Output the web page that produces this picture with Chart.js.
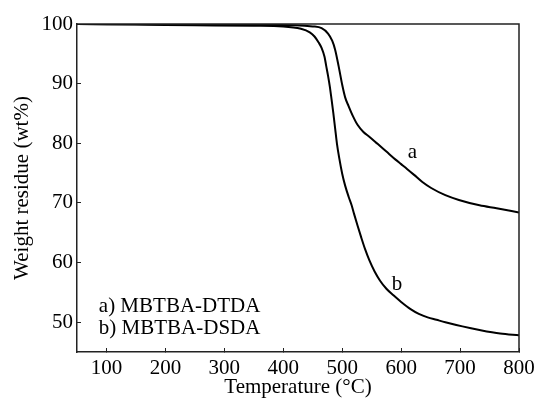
<!DOCTYPE html>
<html>
<head>
<meta charset="utf-8">
<script src="https://cdn.jsdelivr.net/npm/chart.js@4/dist/chart.umd.min.js"></script>
<style>
  html, body { margin: 0; padding: 0; background: #fff; }
  #wrap { width: 538px; height: 400px; position: relative; }
</style>
</head>
<body>
<div id="wrap"><canvas id="c" width="538" height="400"></canvas></div>
<script>
// Temperature (°C) sample points and weight residue (wt%)
const tempA = [50,150,250,350,420,450,465,476,483,488,494,500,505,511,518,526,536,546,560,575,590,600,610,622,636,651,675,698,733,762,800];
const residueA = [100,99.95,99.9,99.85,99.8,99.6,99.3,98.4,97.2,95.7,92.9,89.8,87.7,86.2,84.6,83.1,81.9,81.1,79.9,78.6,77.3,76.5,75.7,74.7,73.5,72.5,71.3,70.5,69.6,69.1,68.4];
const tempB = [50,150,250,350,400,430,445,453,460,465,470,473,476,479,482,485,488,491,495,500,505,511,516,520,526,532,539,546,555,564,575,587,600,616,630,645,660,675,704,733,768,800];
const residueB = [100,99.9,99.8,99.7,99.6,99.2,98.6,97.9,96.9,96.0,94.5,92.9,91.3,89.5,87.3,85.0,82.5,80.0,77.5,74.9,72.9,71.0,69.6,68.2,66.2,64.3,62.2,60.4,58.5,57.0,55.6,54.5,53.4,52.2,51.4,50.8,50.4,50.0,49.3,48.7,48.1,47.8];
const xTicks = [100,200,300,400,500,600,700,800];
const yTicks = [50,60,70,80,90,100];
const legendLines = ["a) MBTBA-DTDA", "b) MBTBA-DSDA"];
const curveLabels = ["a", "b"];

const FONT = "'Liberation Serif', 'Times New Roman', serif";

const toPts = (xs, ys) => xs.map((x, i) => ({ x: x, y: ys[i] }));

const annotPlugin = {
  id: 'annot',
  afterDraw(chart) {
    const { ctx, chartArea: a, scales: { x, y } } = chart;
    ctx.save();
    // frame
    ctx.strokeStyle = '#222';
    ctx.lineWidth = 1.5;
    ctx.beginPath();
    ctx.moveTo(a.left, a.top);
    ctx.lineTo(a.right, a.top);
    ctx.lineTo(a.right, a.bottom);
    ctx.stroke();
    // text
    ctx.fillStyle = '#000';
    ctx.font = '21px ' + FONT;
    ctx.textBaseline = 'middle';
    ctx.textAlign = 'left';
    ctx.fillText(legendLines[0], x.getPixelForValue(87), y.getPixelForValue(52.7));
    ctx.fillText(legendLines[1], x.getPixelForValue(87), y.getPixelForValue(48.9));
    ctx.textAlign = 'center';
    ctx.fillText(curveLabels[0], x.getPixelForValue(619), y.getPixelForValue(78.5));
    ctx.fillText(curveLabels[1], x.getPixelForValue(593), y.getPixelForValue(56.4));
    ctx.restore();
  }
};

new Chart(document.getElementById('c'), {
  type: 'line',
  data: {
    datasets: [
      { label: 'a', data: toPts(tempA, residueA), borderColor: '#000', borderWidth: 2, pointRadius: 0, cubicInterpolationMode: 'monotone', fill: false },
      { label: 'b', data: toPts(tempB, residueB), borderColor: '#000', borderWidth: 2, pointRadius: 0, cubicInterpolationMode: 'monotone', fill: false }
    ]
  },
  options: {
    responsive: false,
    animation: false,
    devicePixelRatio: 1,
    layout: { padding: { top: 24, right: 19, left: 0, bottom: 0 } },
    plugins: { legend: { display: false }, tooltip: { enabled: false } },
    scales: {
      x: {
        type: 'linear', min: 50, max: 800,
        afterBuildTicks(s) { s.ticks = xTicks.map(v => ({ value: v })); },
        afterFit(s) { s.height = 48; s.paddingLeft = 0; s.paddingRight = 0; },
        grid: { drawOnChartArea: false, drawTicks: true, tickLength: -4, color: '#222' },
        border: { color: '#222', width: 1.5 },
        ticks: { color: '#000', font: { family: FONT, size: 21 }, padding: 8, maxRotation: 0 },
        title: { display: true, text: 'Temperature (°C)', color: '#000', font: { family: FONT, size: 21 }, padding: { top: 0, bottom: 0 } }
      },
      y: {
        type: 'linear', min: 45, max: 100,
        afterBuildTicks(s) { s.ticks = yTicks.map(v => ({ value: v })); },
        afterFit(s) { s.width = 77; s.paddingTop = 0; s.paddingBottom = 0; },
        grid: { drawOnChartArea: false, drawTicks: true, tickLength: -4, color: '#222' },
        border: { color: '#222', width: 1.5 },
        ticks: { color: '#000', font: { family: FONT, size: 21 }, padding: 8 },
        title: { display: true, text: 'Weight residue (wt%)', color: '#000', font: { family: FONT, size: 21 }, padding: { top: 10, bottom: 0 } }
      }
    }
  },
  plugins: [annotPlugin]
});
</script>
</body>
</html>
